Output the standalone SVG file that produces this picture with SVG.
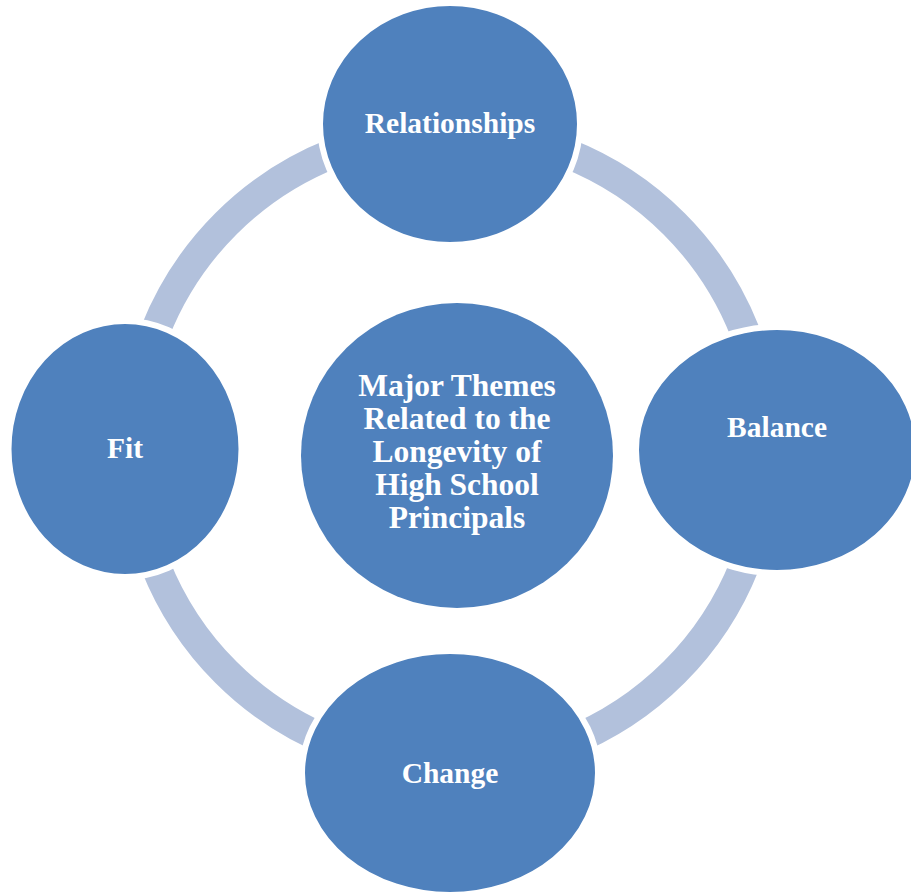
<svg xmlns="http://www.w3.org/2000/svg" width="911" height="894" viewBox="0 0 911 894">
<style>
.node{fill:#4F81BD;stroke:#FFFFFF;stroke-width:6}
.lbl{fill:#FFFFFF;font-family:"Liberation Serif","Times New Roman",serif;font-weight:bold;font-size:29.5px;text-anchor:middle}
.ctr{font-size:31.5px}
.ring{fill:none;stroke:#B2C1DC;stroke-width:30}
</style>
<rect width="911" height="894" fill="#FFFFFF"/>
<g id="connectors">
<circle class="ring" cx="450" cy="448" r="317"/>
</g>
<g id="center">
<ellipse cx="457" cy="455.5" rx="156" ry="152.5" fill="#4F81BD"/>
<text class="lbl ctr" x="457"><tspan x="457" y="396">Major Themes</tspan><tspan x="457" y="429">Related to the</tspan><tspan x="457" y="462">Longevity of</tspan><tspan x="457" y="495">High School</tspan><tspan x="457" y="528">Principals</tspan></text>
</g>
<g id="relationships">
<ellipse class="node" cx="450" cy="124" rx="130" ry="121"/>
<text class="lbl" x="450" y="133">Relationships</text>
</g>
<g id="balance">
<ellipse class="node" cx="777" cy="450" rx="141" ry="123"/>
<text class="lbl" x="777" y="437">Balance</text>
</g>
<g id="change">
<ellipse class="node" cx="450" cy="773" rx="148" ry="122"/>
<text class="lbl" x="450" y="783">Change</text>
</g>
<g id="fit">
<ellipse class="node" cx="125" cy="449" rx="116.5" ry="128"/>
<text class="lbl" x="125" y="458">Fit</text>
</g>
</svg>
